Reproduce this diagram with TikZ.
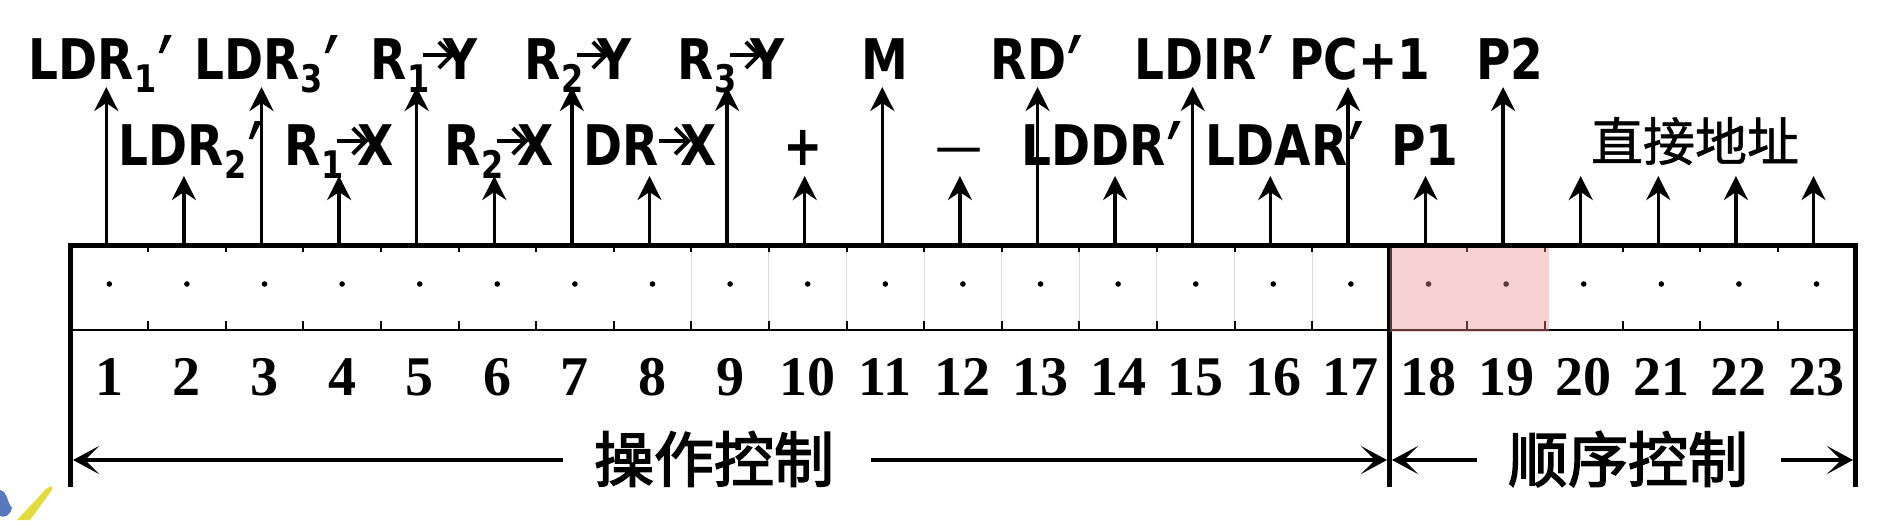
\documentclass[tikz,border=0pt]{standalone}
\usepackage{fontspec}
\newfontfamily\labfont[FakeStretch=0.84]{DejaVu Sans}
\newfontfamily\numfont{Liberation Serif}
\newfontfamily\cjkfont[FakeBold=1]{Noto Sans CJK SC}
\newfontfamily\cjkbfont[FakeBold=2.5]{Noto Sans CJK SC}
\usetikzlibrary{arrows.meta}
\definecolor{pinkc}{RGB}{235,140,140}
\definecolor{logoblue}{RGB}{90,120,190}
\definecolor{logoyellow}{RGB}{225,220,60}
\newcommand\lsub[1]{\kern1pt\raisebox{-13pt}{\fontsize{38}{38}\selectfont #1}}
\newcommand\lp{\kern2pt\tikz[baseline=0pt,x=1pt,y=1pt]\fill (0,26) -- (6,44) -- (13,44) -- (4,26) -- cycle;}
\newcommand\lra{\tikz[baseline=0pt,x=1pt,y=1pt]\draw[line width=4pt,-{Straight Barb[length=13pt,width=26pt,line width=4pt]}] (0,24) -- (32,24);\kern-13pt}
\tikzset{
 uparrow/.style={line width=3.5pt,-{Stealth[length=24pt,width=24pt,inset=8pt]}},
 dimarrow/.style={line width=4pt,-{Stealth[length=26pt,width=28pt,inset=14pt]}},
 boxline/.style={line width=5pt,line join=miter},
 midline/.style={line width=2.5pt},
 tickline/.style={line width=2pt},
 sepline/.style={line width=1pt,black!15},
 lab/.style={font=\labfont\bfseries\fontsize{56}{60}\selectfont, inner sep=0pt, anchor=base},
 num/.style={font=\numfont\bfseries\fontsize{56}{60}\selectfont, inner sep=0pt, anchor=base},
 cjk/.style={font=\cjkbfont\fontsize{60}{64}\selectfont, inner sep=0pt},
 cjksmall/.style={font=\cjkfont\fontsize{52}{56}\selectfont, inner sep=0pt},
}
\begin{document}
\begin{tikzpicture}[x=1pt,y=-1pt]
\useasboundingbox (0,0) rectangle (1892,520);
% light separators in cells 9-17
\foreach \i in {8,...,16} \draw[sepline] ({70.5+77.6*\i},247) -- ({70.5+77.6*\i},330);
% ticks
\foreach \i in {1,...,16,18,19,20,21,22} {
  \draw[tickline] ({70.5+77.6*\i},245) -- ({70.5+77.6*\i},252);
  \draw[tickline] ({70.5+77.6*\i},321) -- ({70.5+77.6*\i},330);
}
% box
\draw[midline] (70.5,330) -- (1855.3,330);
\draw[boxline] (70.5,487) -- (70.5,245) -- (1855.3,245) -- (1855.3,487);
\draw[boxline] (1389.7,245) -- (1389.7,487);
% dots and coordinates
\foreach \i in {1,...,23} {
  \fill ({70.5+77.6*(\i-0.5)},284) circle (2.8pt);
  \coordinate (c\i) at ({70.5+77.6*(\i-0.5)-3},245);
  \coordinate (l\i) at ({70.5+77.6*(\i-0.5)-3},87);
  \coordinate (s\i) at ({70.5+77.6*(\i-0.5)-3},176);
  \node[num] (n\i) at ({70.5+77.6*(\i-0.5)},395) {\i};
}
% pink highlight
\fill[pinkc,opacity=0.4] (1389.7,248) rectangle (1549,332);
% arrows
\foreach \i in {1,3,...,19} \draw[uparrow] (c\i) -- (l\i);
\foreach \i in {2,4,...,18,20,21,22,23} \draw[uparrow] (c\i) -- (s\i);
% top row labels
\node[lab] (t1) at (100,79) {LDR\lsub{1}\lp};
\node[lab] (t3) at (266,79) {LDR\lsub{3}\lp};
\node[lab] (t5) at (424,79) {R\lsub{1}\kern-9pt\lra Y};
\node[lab] (t7) at (578,79) {R\lsub{2}\kern-9pt\lra Y};
\node[lab] (t9) at (731,79) {R\lsub{3}\kern-9pt\lra Y};
\node[lab] (t11) at (885,79) {M};
\node[lab] (t13) at (1036,79) {RD\lp};
\node[lab] (t15) at (1203,79) {LDIR\lp};
\node[lab] (t17) at (1360,79) {PC+1};
\node[lab] (t19) at (1510,79) {P2};
% second row labels
\node[lab] (t2) at (190,165) {LDR\lsub{2}\lp};
\node[lab] (t4) at (339,165) {R\lsub{1}\kern-9pt\lra X};
\node[lab] (t6) at (499,165) {R\lsub{2}\kern-9pt\lra X};
\node[lab] (t8) at (650,165) {DR\kern-2pt\lra X};
\node[lab] (t10) at (803,165) {+};
\node[lab] (t12) at (959,165) {\mdseries —};
\node[lab] (t14) at (1101,165) {LDDR\lp};
\node[lab] (t16) at (1284,165) {LDAR\lp};
\node[lab] (t18) at (1425,165) {P1};
\node[cjksmall] (t20) at (1695,141) {直接地址};
% bottom dimension labels
\node[cjk] (op) at (714,459) {操作控制};
\node[cjk] (sq) at (1628,459) {顺序控制};
\coordinate (opl) at (563,460);
\coordinate (opr) at (871,460);
\coordinate (sql) at (1477,460);
\coordinate (sqr) at (1781,460);
\coordinate (edgeL) at (73,460);
\coordinate (divL) at (1387,460);
\coordinate (divR) at (1392,460);
\coordinate (edgeR) at (1853,460);
\draw[dimarrow] (opl) -- (edgeL);
\draw[dimarrow] (opr) -- (divL);
\draw[dimarrow] (sql) -- (divR);
\draw[dimarrow] (sqr) -- (edgeR);
% logo fragment
\fill[logoblue] (0,490) .. controls (8,492) and (6,500) .. (12,508) .. controls (10,516) and (4,518) .. (0,516) -- cycle;
\fill[logoyellow] (17,520) -- (46,489) .. controls (50,485) and (54,486) .. (52,490) -- (30,520) -- cycle;
\end{tikzpicture}
\end{document}
